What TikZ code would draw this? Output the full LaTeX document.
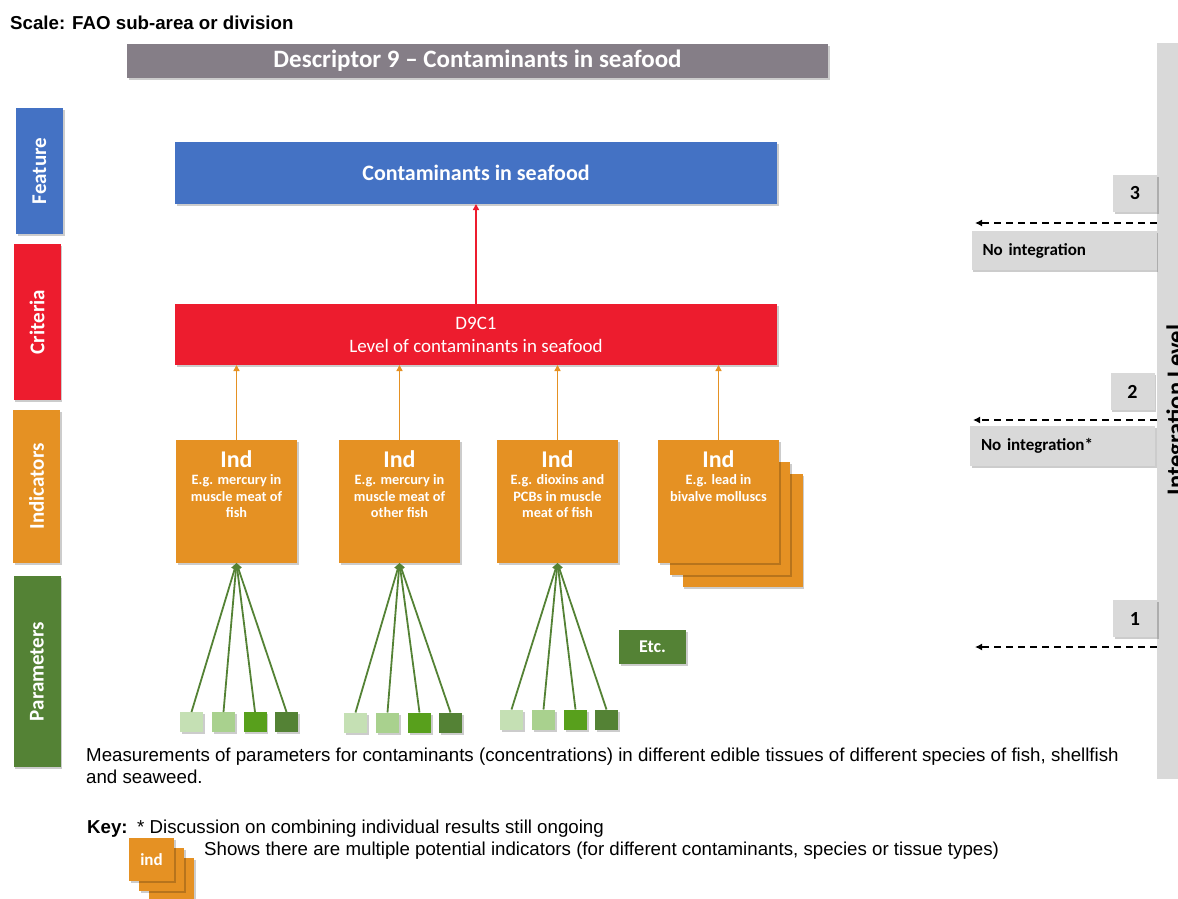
\documentclass[tikz,border=0pt]{standalone}
\usepackage{fontspec}
\setmainfont{Liberation Sans}
\newfontfamily\boxfont{Carlito}
\usepackage{tikz}
\usetikzlibrary{arrows.meta, positioning, shadows}

\definecolor{TitleGrey}{RGB}{133,126,135}
\definecolor{FeatBlue}{RGB}{68,114,196}
\definecolor{CritRed}{RGB}{237,28,46}
\definecolor{IndOrange}{RGB}{229,145,35}
\definecolor{ParGreen}{RGB}{84,130,53}
\definecolor{ParGreenA}{RGB}{197,224,180}
\definecolor{ParGreenB}{RGB}{169,209,142}
\definecolor{ParGreenC}{RGB}{88,160,28}
\definecolor{LevelGrey}{RGB}{217,217,217}

\begin{document}
\begin{tikzpicture}[x=1pt, y=-1pt,
   Shade/.style={drop shadow={shadow xshift=1.5pt, shadow yshift=-2pt,
                 opacity=0.2, fill=black}},
     Box/.style={inner sep=0pt, outer sep=0pt, Shade},
  SideBox/.style={Box, minimum width=47pt},
 SideText/.style={rotate=90, text=white, font=\boxfont\bfseries\fontsize{21}{24}\selectfont},
 TitleBox/.style={Box, fill=TitleGrey, minimum width=701pt, minimum height=34pt,
                  text=white, font=\boxfont\bfseries\fontsize{25}{28}\selectfont},
  FeatBox/.style={Box, fill=FeatBlue, minimum width=602pt, minimum height=62pt,
                  text=white, font=\boxfont\bfseries\fontsize{22}{25}\selectfont},
  CritBox/.style={Box, fill=CritRed, minimum width=602pt, minimum height=61pt,
                  text=white, align=center, font=\boxfont\fontsize{19}{23}\selectfont},
   IndBox/.style={Box, fill=IndOrange, minimum width=121pt, minimum height=123pt},
  IndBack/.style={Box, fill=IndOrange, minimum width=120pt, minimum height=113pt},
  IndHead/.style={inner sep=0pt, text=white, font=\boxfont\bfseries\fontsize{24}{28}\selectfont},
  IndDesc/.style={inner sep=0pt, text=white, align=center,
                  font=\boxfont\bfseries\fontsize{14.3}{16.5}\selectfont},
   ParBox/.style={Box, minimum width=23pt, minimum height=20pt},
  ParLine/.style={draw=ParGreen, line width=1.8pt, -{Triangle[length=6pt, width=7pt]}},
 IndArrow/.style={draw=IndOrange, line width=1.8pt, -{Triangle[length=6pt, width=6pt]}},
CritArrow/.style={draw=CritRed, line width=1.8pt, -{Triangle[length=6pt, width=6pt]}},
  EtcBox/.style={Box, fill=ParGreen, minimum width=67pt, minimum height=34pt,
                 text=white, font=\boxfont\bfseries\fontsize{18}{21}\selectfont},
 LevelBox/.style={Box, fill=LevelGrey, font=\boxfont\bfseries\fontsize{17}{20}\selectfont},
  NumBox/.style={LevelBox, minimum width=44pt, minimum height=37pt,
                 font=\boxfont\bfseries\fontsize{20}{23}\selectfont},
  NoneBox/.style={LevelBox, minimum height=39pt, text width=163pt, inner xsep=11pt, align=left},
LevelArrow/.style={line width=1.8pt, dash pattern=on 7pt off 5pt, -{Latex[length=7pt, width=7pt]}},
 BodyText/.style={inner sep=0pt, font=\fontsize{18.7}{22}\selectfont},
   KeyBox/.style={Box, fill=IndOrange, minimum width=45pt, minimum height=43pt,
                  text=white, font=\boxfont\bfseries\fontsize{17}{20}\selectfont},
  ]
\useasboundingbox (0,0) rectangle (1178,899);

\node[inner sep=0pt, anchor=base west, font=\bfseries\fontsize{18.7}{22}\selectfont]
  (scale) at (10,30) {Scale: FAO sub-area or division};
\node[TitleBox] (title) at (477.5,61) {Descriptor 9 – Contaminants in seafood};

% levels on the left
\node[SideBox, fill=FeatBlue,  minimum height=126pt] (sfeat) at (39.5,171) {};
\node[SideBox, fill=CritRed,   minimum height=156pt] (scrit) at (37,322) {};
\node[SideBox, fill=IndOrange, minimum height=153pt] (sind)  at (36.5,486.5) {};
\node[SideBox, fill=ParGreen,  minimum height=191pt] (spar)  at (37,671.5) {};
\node[SideText] at (sfeat) {Feature};
\node[SideText] at (scrit) {Criteria};
\node[SideText] at (sind)  {Indicators};
\node[SideText] at (spar)  {Parameters};

\node[FeatBox] (feat) at (476,173) {Contaminants in seafood};
\node[CritBox] (crit) at (476,334.5) {D9C1\\Level of contaminants in seafood};
\draw[CritArrow] (crit.north) -- (feat.south);

% indicators
\node[IndBack] (ind4c) at (742.5,530) {};
\node[IndBack] (ind4b) at (730,518.5) {};
\node[IndBox] (ind1) at (236.5,501.5) {};
\node[IndBox] (ind2) at (399.5,501.5) {};
\node[IndBox] (ind3) at (557.5,501.5) {};
\node[IndBox] (ind4) at (718.5,501.5) {};
\node[IndHead, below=10pt of ind1.north] (h1) {Ind};
\node[IndHead, below=10pt of ind2.north] (h2) {Ind};
\node[IndHead, below=10pt of ind3.north] (h3) {Ind};
\node[IndHead, below=10pt of ind4.north] (h4) {Ind};
\node[IndDesc, below=7pt of h1] (d1) {E.g. mercury in\\muscle meat of\\fish};
\node[IndDesc, below=7pt of h2] (d2) {E.g. mercury in\\muscle meat of\\other fish};
\node[IndDesc, below=7pt of h3] (d3) {E.g. dioxins and\\PCBs in muscle\\meat of fish};
\node[IndDesc, below=7pt of h4] (d4) {E.g. lead in\\bivalve molluscs};
\draw[IndArrow] (ind1.north) -- (ind1.north |- crit.south);
\draw[IndArrow] (ind2.north) -- (ind2.north |- crit.south);
\draw[IndArrow] (ind3.north) -- (ind3.north |- crit.south);
\draw[IndArrow] (ind4.north) -- (ind4.north |- crit.south);

% parameters
\node[ParBox, fill=ParGreenA] (p11) at (191.5,722) {};
\node[ParBox, fill=ParGreenB] (p12) at (223.5,722) {};
\node[ParBox, fill=ParGreenC] (p13) at (255,722) {};
\node[ParBox, fill=ParGreen]  (p14) at (286.5,722) {};
\node[ParBox, fill=ParGreenA] (p21) at (355.5,722.5) {};
\node[ParBox, fill=ParGreenB] (p22) at (387.5,722.5) {};
\node[ParBox, fill=ParGreenC] (p23) at (419.5,722.5) {};
\node[ParBox, fill=ParGreen]  (p24) at (450.5,722.5) {};
\node[ParBox, fill=ParGreenA] (p31) at (511.5,719.5) {};
\node[ParBox, fill=ParGreenB] (p32) at (543.5,719.5) {};
\node[ParBox, fill=ParGreenC] (p33) at (575.5,719.5) {};
\node[ParBox, fill=ParGreen]  (p34) at (606.5,719.5) {};
\draw[ParLine] (p11.north) -- (ind1.south);
\draw[ParLine] (p12.north) -- (ind1.south);
\draw[ParLine] (p13.north) -- (ind1.south);
\draw[ParLine] (p14.north) -- (ind1.south);
\draw[ParLine] (p21.north) -- (ind2.south);
\draw[ParLine] (p22.north) -- (ind2.south);
\draw[ParLine] (p23.north) -- (ind2.south);
\draw[ParLine] (p24.north) -- (ind2.south);
\draw[ParLine] (p31.north) -- (ind3.south);
\draw[ParLine] (p32.north) -- (ind3.south);
\draw[ParLine] (p33.north) -- (ind3.south);
\draw[ParLine] (p34.north) -- (ind3.south);
\node[EtcBox] (etc) at (652.5,647) {Etc.};

% integration level
\node[fill=LevelGrey, inner sep=0pt, minimum width=43pt, minimum height=736pt]
  (bar) at (1178.5,411) {};
\node[rotate=90, inner sep=0pt, font=\boxfont\bfseries\fontsize{24.5}{28}\selectfont]
  (barlabel) at (1177,410) {Integration Level};
\node[NumBox] (lev3) at (1135,193.5) {3};
\node[NumBox] (lev2) at (1132.5,391.5) {2};
\node[NumBox] (lev1) at (1135,618.5) {1};
\node[NoneBox] (none3) at (1064,250.5) {No integration};
\node[NoneBox, minimum height=40pt] (none2) at (1062.5,446) {No integration*};
\coordinate (end3) at (975,223);
\coordinate (end2) at (973,420);
\coordinate (end1) at (975,647);
\draw[LevelArrow] (end3 -| bar.west) -- (end3);
\draw[LevelArrow] (end2 -| bar.west) -- (end2);
\draw[LevelArrow] (end1 -| bar.west) -- (end1);

% notes and key
\node[BodyText, anchor=north west, align=left] (measure) at (86,748)
  {Measurements of parameters for contaminants (concentrations) in different edible tissues of different species of fish, shellfish\\and seaweed.};
\node[BodyText, anchor=base west] (keyhead) at (87,833) {\bfseries Key:};
\node[BodyText, anchor=base west] (keynote) at (137,833)
  {* Discussion on combining individual results still ongoing};
\node[KeyBox] (kb3) at (171.5,879.5) {};
\node[KeyBox] (kb2) at (161.5,869.5) {};
\node[KeyBox] (kb1) at (151.5,859.5) {ind};
\node[BodyText, anchor=base west] (keyshows) at (204,855)
  {Shows there are multiple potential indicators (for different contaminants, species or tissue types)};
\end{tikzpicture}
\end{document}
